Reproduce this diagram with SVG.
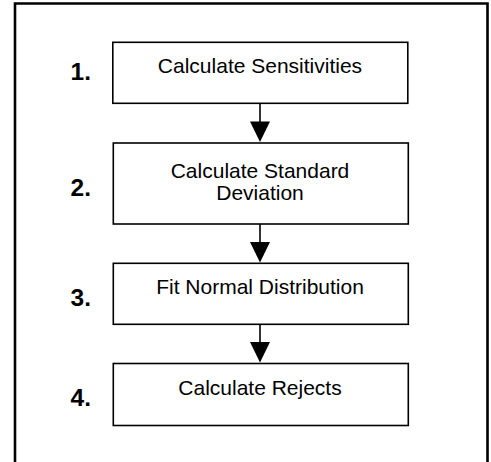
<svg xmlns="http://www.w3.org/2000/svg" width="491" height="462" viewBox="0 0 491 462">
<defs>
<style>
.box{fill:#fff;stroke:#000;stroke-width:1.6}
.lbl{font-family:"Liberation Sans",Arial,sans-serif;font-size:21px;fill:#000;text-anchor:middle}
.num{font-family:"Liberation Sans",Arial,sans-serif;font-size:24.5px;font-weight:bold;fill:#000}
.ln{stroke:#000;stroke-width:1.6;fill:none}
.hd{fill:#000}
</style>
</defs>
<rect width="491" height="462" fill="#fff"/>
<path d="M15,470 V3.5 H487.5 V470" fill="none" stroke="#000" stroke-width="2.6"/>
<g id="connectors">
<line class="ln" x1="260" y1="103" x2="260" y2="124"/>
<polygon class="hd" points="250,121.5 270,121.5 260,142"/>
<line class="ln" x1="260" y1="224" x2="260" y2="245"/>
<polygon class="hd" points="250,242 270,242 260,262.5"/>
<line class="ln" x1="260" y1="324" x2="260" y2="345"/>
<polygon class="hd" points="250,342 270,342 260,362.5"/>
</g>
<g id="step1">
<rect class="box" x="112.8" y="42.3" width="295" height="61"/>
<text class="lbl" x="260" y="72.5">Calculate Sensitivities</text>
<text class="num" x="70.5" y="80">1.</text>
</g>
<g id="step2">
<rect class="box" x="113.3" y="143" width="295" height="81"/>
<text class="lbl" x="260" y="177.5">Calculate Standard</text>
<text class="lbl" x="260" y="199.5">Deviation</text>
<text class="num" x="70.5" y="196">2.</text>
</g>
<g id="step3">
<rect class="box" x="113.3" y="263.3" width="295" height="61"/>
<text class="lbl" x="260" y="293.5">Fit Normal Distribution</text>
<text class="num" x="70.5" y="306">3.</text>
</g>
<g id="step4">
<rect class="box" x="113.3" y="363.5" width="295" height="62"/>
<text class="lbl" x="260" y="394.5">Calculate Rejects</text>
<text class="num" x="70.5" y="406">4.</text>
</g>
</svg>
